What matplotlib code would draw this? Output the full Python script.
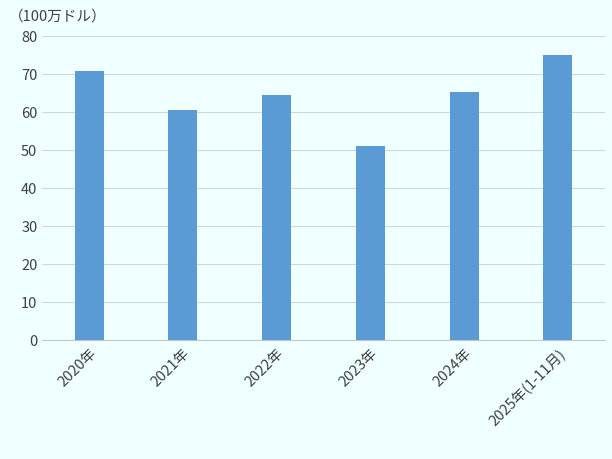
import matplotlib
matplotlib.use("Agg")
import matplotlib.pyplot as plt

plt.rcParams['font.family'] = ['Noto Sans CJK JP', 'DejaVu Sans']

categories = ["2020年", "2021年", "2022年", "2023年", "2024年", "2025年(1-11月)"]
values = [70.7, 60.6, 64.3, 50.9, 65.1, 74.9]
yticks = [0, 10, 20, 30, 40, 50, 60, 70, 80]

bg = "#F0FFFF"
fig = plt.figure(figsize=(6.12, 4.60), dpi=100, facecolor=bg)
ax = fig.add_axes([0.069, 0.259, 0.919, 0.661], facecolor=bg)
x = range(len(categories))
ax.bar(x, values, width=0.31, color="#5B9BD5", zorder=3)
ax.set_ylim(0, 80)
ax.set_xlim(-0.5, len(categories) - 0.5)
ax.set_yticks(yticks)
ax.set_yticklabels([str(v) for v in yticks], fontsize=10.5, color="#404040")
ax.set_xticks(list(x))
ax.set_xticklabels(categories, rotation=45, ha="right", rotation_mode="anchor", fontsize=10.5, color="#404040")
ax.grid(axis="y", color="#D0D8D8", linewidth=0.8, zorder=0)
for s in ["top", "right", "left"]:
    ax.spines[s].set_visible(False)
ax.spines["bottom"].set_color("#C0C8C8")
ax.tick_params(axis="both", length=0)
fig.text(0.015, 0.965, "（100万ドル）", fontsize=10.5, color="#404040", va="center")
fig.savefig("out.png", dpi=100, facecolor=bg)
